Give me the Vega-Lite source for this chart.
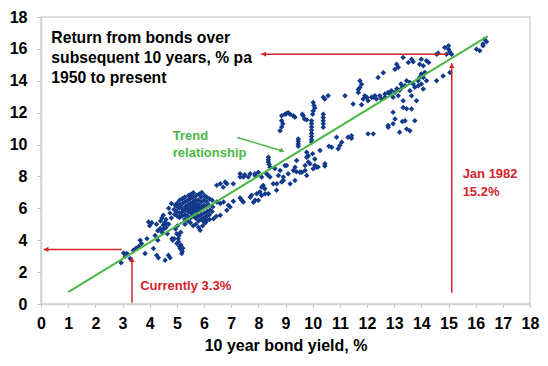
{
  "$schema": "https://vega.github.io/schema/vega-lite/v6.json",
  "width": 489,
  "height": 287,
  "autosize": "none",
  "padding": {"left": 41, "top": 17, "right": 18, "bottom": 62},
  "background": "white",
  "config": {
    "view": {"stroke": "#D4D4D4", "strokeWidth": 1.5},
    "font": "Liberation Sans",
    "axis": {
      "labelFont": "Liberation Sans", "labelFontWeight": "bold", "labelFontSize": 16, "labelColor": "#000000",
      "labelOverlap": false, "labelBound": false, "labelFlush": false,
      "titleFont": "Liberation Sans", "titleFontWeight": "bold", "titleFontSize": 16, "titleColor": "#000000",
      "grid": false, "domainColor": "#D4D4D4", "domainWidth": 1.5, "tickColor": "#BDBDBD"
    }
  },
  "datasets": {
    "pts": [
      {"yield":2.95,"ret":2.58},{"yield":3.04,"ret":3.2},{"yield":3.16,"ret":3.17},{"yield":3.28,"ret":2.85},{"yield":3.4,"ret":3.37},{"yield":3.1,"ret":3.0},{"yield":3.5,"ret":3.5},{"yield":3.65,"ret":4.0},{"yield":3.7,"ret":3.8},{"yield":3.83,"ret":3.17},{"yield":3.6,"ret":3.6},{"yield":3.9,"ret":4.1},{"yield":3.96,"ret":5.15},{"yield":4.08,"ret":5.1},{"yield":4.0,"ret":4.9},{"yield":4.14,"ret":3.48},{"yield":4.26,"ret":3.06},{"yield":4.32,"ret":2.9},{"yield":4.2,"ret":4.3},{"yield":4.3,"ret":4.0},{"yield":4.39,"ret":4.73},{"yield":4.45,"ret":4.5},{"yield":4.5,"ret":4.94},{"yield":4.55,"ret":5.1},{"yield":4.6,"ret":4.8},{"yield":4.5,"ret":5.56},{"yield":4.45,"ret":5.4},{"yield":4.6,"ret":5.3},{"yield":4.7,"ret":5.0},{"yield":4.75,"ret":5.7},{"yield":4.8,"ret":5.4},{"yield":4.57,"ret":2.75},{"yield":4.69,"ret":3.06},{"yield":4.75,"ret":2.9},{"yield":4.82,"ret":4.1},{"yield":4.65,"ret":4.4},{"yield":4.4,"ret":5.2},{"yield":4.3,"ret":4.6},{"yield":4.25,"ret":5.0},{"yield":4.7,"ret":6.0},{"yield":4.8,"ret":6.3},{"yield":4.62,"ret":5.05},{"yield":4.52,"ret":4.7},
      {"yield":4.95,"ret":4.7},{"yield":5.0,"ret":4.4},{"yield":5.05,"ret":4.1},{"yield":5.0,"ret":3.8},{"yield":5.06,"ret":3.9},{"yield":5.1,"ret":3.6},{"yield":5.12,"ret":3.48},{"yield":5.18,"ret":3.17},{"yield":5.2,"ret":3.3},{"yield":5.15,"ret":3.7},{"yield":5.08,"ret":4.3},{"yield":4.9,"ret":4.1},{"yield":4.85,"ret":4.0},{"yield":5.22,"ret":3.5},{"yield":5.14,"ret":4.5},{"yield":5.02,"ret":4.9},
      {"yield":5.3,"ret":5.0},{"yield":5.5,"ret":5.1},{"yield":5.7,"ret":5.0},{"yield":5.8,"ret":4.8},{"yield":5.86,"ret":4.63},{"yield":5.95,"ret":4.9},{"yield":6.05,"ret":5.1},{"yield":6.1,"ret":5.25},{"yield":6.2,"ret":5.3},{"yield":6.35,"ret":5.35},{"yield":6.45,"ret":5.5},{"yield":6.6,"ret":5.56},{"yield":6.0,"ret":5.15},{"yield":5.6,"ret":4.9},{"yield":5.4,"ret":5.2},
      {"yield":4.92,"ret":5.62},{"yield":4.9,"ret":5.92},{"yield":4.94,"ret":6.2},{"yield":5.02,"ret":5.5},{"yield":5.0,"ret":5.78},{"yield":5.03,"ret":6.08},{"yield":5.01,"ret":6.32},
      {"yield":5.1,"ret":5.42},{"yield":5.12,"ret":5.7},{"yield":5.09,"ret":6.0},{"yield":5.13,"ret":6.22},{"yield":5.1,"ret":6.5},
      {"yield":5.2,"ret":5.52},{"yield":5.22,"ret":5.8},{"yield":5.18,"ret":6.02},{"yield":5.21,"ret":6.3},{"yield":5.2,"ret":6.6},
      {"yield":5.3,"ret":5.3},{"yield":5.31,"ret":5.6},{"yield":5.28,"ret":5.88},{"yield":5.32,"ret":6.12},{"yield":5.3,"ret":6.42},{"yield":5.29,"ret":6.7},
      {"yield":5.4,"ret":5.5},{"yield":5.42,"ret":5.78},{"yield":5.38,"ret":6.0},{"yield":5.41,"ret":6.22},{"yield":5.4,"ret":6.5},{"yield":5.43,"ret":6.8},
      {"yield":5.5,"ret":5.4},{"yield":5.52,"ret":5.7},{"yield":5.48,"ret":5.92},{"yield":5.51,"ret":6.1},{"yield":5.5,"ret":6.32},{"yield":5.49,"ret":6.6},{"yield":5.52,"ret":6.88},
      {"yield":5.6,"ret":5.5},{"yield":5.61,"ret":5.8},{"yield":5.58,"ret":6.02},{"yield":5.62,"ret":6.2},{"yield":5.6,"ret":6.42},{"yield":5.59,"ret":6.7},{"yield":5.61,"ret":6.98},
      {"yield":5.7,"ret":5.38},{"yield":5.72,"ret":5.62},{"yield":5.68,"ret":5.9},{"yield":5.71,"ret":6.1},{"yield":5.7,"ret":6.3},{"yield":5.69,"ret":6.52},{"yield":5.72,"ret":6.8},
      {"yield":5.8,"ret":5.2},{"yield":5.82,"ret":5.5},{"yield":5.78,"ret":5.8},{"yield":5.81,"ret":6.02},{"yield":5.8,"ret":6.22},{"yield":5.79,"ret":6.5},{"yield":5.82,"ret":6.9},
      {"yield":5.9,"ret":5.3},{"yield":5.91,"ret":5.6},{"yield":5.88,"ret":5.88},{"yield":5.92,"ret":6.1},{"yield":5.9,"ret":6.4},{"yield":5.89,"ret":6.7},{"yield":5.92,"ret":7.0},
      {"yield":6.0,"ret":5.4},{"yield":6.02,"ret":5.7},{"yield":5.98,"ret":6.0},{"yield":6.01,"ret":6.2},{"yield":6.0,"ret":6.5},{"yield":6.02,"ret":6.8},
      {"yield":6.1,"ret":5.5},{"yield":6.12,"ret":5.8},{"yield":6.08,"ret":6.1},{"yield":6.11,"ret":6.4},{"yield":6.1,"ret":6.7},
      {"yield":6.2,"ret":5.6},{"yield":6.22,"ret":5.9},{"yield":6.18,"ret":6.2},{"yield":6.2,"ret":6.6},
      {"yield":6.3,"ret":5.8},{"yield":6.32,"ret":6.1},{"yield":6.3,"ret":6.5},
      {"yield":6.47,"ret":7.44},{"yield":6.6,"ret":7.54},{"yield":6.71,"ret":7.33},{"yield":6.78,"ret":7.65},{"yield":6.84,"ret":7.54},{"yield":6.47,"ret":6.4},{"yield":6.6,"ret":6.3},{"yield":6.72,"ret":6.4},{"yield":6.84,"ret":5.88},{"yield":6.9,"ret":6.2},{"yield":6.96,"ret":6.08},{"yield":7.08,"ret":6.45},{"yield":7.08,"ret":7.54},{"yield":7.33,"ret":6.65},{"yield":7.39,"ret":6.5},{"yield":7.45,"ret":6.4},{"yield":7.7,"ret":6.7},{"yield":7.75,"ret":6.82},{"yield":7.88,"ret":6.5},{"yield":7.82,"ret":6.38},{"yield":8.0,"ret":6.5},{"yield":8.06,"ret":7.02},{"yield":8.12,"ret":7.33},{"yield":8.24,"ret":7.23},{"yield":8.25,"ret":6.92},{"yield":8.37,"ret":6.92},{"yield":7.94,"ret":6.92},{"yield":8.68,"ret":7.54},{"yield":8.67,"ret":7.13},{"yield":8.55,"ret":7.54},{"yield":8.12,"ret":6.81},
      {"yield":7.33,"ret":7.96},{"yield":7.45,"ret":7.96},{"yield":7.63,"ret":7.96},{"yield":7.88,"ret":8.17},{"yield":8.0,"ret":8.27},{"yield":7.33,"ret":8.17},{"yield":7.5,"ret":8.1},{"yield":7.7,"ret":8.17},{"yield":7.88,"ret":8.06},{"yield":8.12,"ret":7.96},{"yield":8.3,"ret":8.17},{"yield":8.37,"ret":8.06},{"yield":8.43,"ret":7.96},{"yield":8.18,"ret":7.44},
      {"yield":8.37,"ret":9.2},{"yield":8.37,"ret":9.05},{"yield":8.37,"ret":8.9},{"yield":8.4,"ret":8.75},{"yield":8.43,"ret":8.58},
      {"yield":8.61,"ret":8.5},{"yield":8.8,"ret":8.37},{"yield":8.74,"ret":8.06},{"yield":8.92,"ret":7.96},{"yield":9.1,"ret":8.17},{"yield":9.29,"ret":8.37},{"yield":9.4,"ret":8.3},{"yield":8.86,"ret":7.65},{"yield":8.92,"ret":7.75},{"yield":9.17,"ret":7.54},{"yield":9.35,"ret":7.75},{"yield":9.04,"ret":8.69},{"yield":8.98,"ret":8.69},{"yield":9.35,"ret":8.58},{"yield":9.41,"ret":9.0},{"yield":9.53,"ret":8.27},{"yield":9.6,"ret":8.27},{"yield":9.72,"ret":8.37},{"yield":9.78,"ret":8.06},{"yield":9.72,"ret":8.69},{"yield":9.84,"ret":8.9},{"yield":9.9,"ret":8.8},{"yield":10.02,"ret":8.48},{"yield":10.08,"ret":8.7},{"yield":10.15,"ret":8.58},{"yield":10.2,"ret":8.6},{"yield":10.45,"ret":8.79},{"yield":10.45,"ret":8.66},
      {"yield":9.47,"ret":10.35},{"yield":9.47,"ret":10.2},{"yield":9.47,"ret":10.04},{"yield":9.47,"ret":9.9},
      {"yield":8.8,"ret":10.87},{"yield":8.86,"ret":11.1},{"yield":8.86,"ret":11.5},{"yield":8.86,"ret":11.8},{"yield":8.98,"ret":11.9},{"yield":9.1,"ret":12.0},{"yield":9.17,"ret":11.9},{"yield":9.29,"ret":11.8},{"yield":9.35,"ret":11.72},{"yield":9.04,"ret":11.95},{"yield":8.9,"ret":11.3},
      {"yield":9.65,"ret":11.8},{"yield":9.7,"ret":11.6},{"yield":9.62,"ret":11.9},{"yield":9.78,"ret":11.55},
      {"yield":9.96,"ret":11.5},{"yield":9.96,"ret":11.3},{"yield":9.96,"ret":11.1},{"yield":9.96,"ret":10.9},{"yield":9.96,"ret":10.7},{"yield":9.96,"ret":10.5},{"yield":9.96,"ret":10.3},{"yield":9.96,"ret":10.14},
      {"yield":10.02,"ret":12.64},{"yield":10.05,"ret":12.45},{"yield":10.08,"ret":12.3},{"yield":10.02,"ret":12.1},{"yield":10.0,"ret":11.9},
      {"yield":10.39,"ret":11.9},{"yield":10.39,"ret":11.7},{"yield":10.39,"ret":11.5},{"yield":10.39,"ret":11.3},{"yield":10.39,"ret":11.08},
      {"yield":10.39,"ret":12.96},{"yield":10.45,"ret":12.85},{"yield":10.57,"ret":13.06},
      {"yield":11.19,"ret":13.06},{"yield":11.49,"ret":12.54},{"yield":11.68,"ret":13.27},{"yield":11.74,"ret":13.58},{"yield":11.8,"ret":13.79},{"yield":11.74,"ret":14.0},{"yield":11.68,"ret":13.46},{"yield":11.86,"ret":12.85},{"yield":11.8,"ret":12.5},{"yield":11.92,"ret":13.06},{"yield":12.0,"ret":12.95},{"yield":12.04,"ret":12.75},{"yield":12.17,"ret":12.96},{"yield":12.23,"ret":12.96},{"yield":12.29,"ret":13.06},{"yield":12.35,"ret":12.85},{"yield":12.41,"ret":14.2},{"yield":12.6,"ret":14.5},{"yield":12.47,"ret":13.06},{"yield":12.53,"ret":12.85},{"yield":12.66,"ret":13.17},{"yield":12.66,"ret":12.96},{"yield":12.78,"ret":13.27},{"yield":12.84,"ret":13.17},{"yield":12.9,"ret":13.37},{"yield":12.96,"ret":12.96},{"yield":13.03,"ret":13.27},{"yield":13.15,"ret":13.06},{"yield":13.1,"ret":13.5},{"yield":13.2,"ret":13.4},{"yield":13.3,"ret":13.6},{"yield":13.4,"ret":13.69},{"yield":13.25,"ret":13.8},{"yield":13.46,"ret":14.0},{"yield":13.58,"ret":13.37},{"yield":13.58,"ret":13.9},{"yield":13.64,"ret":13.06},{"yield":13.7,"ret":13.8},{"yield":13.76,"ret":13.6},{"yield":13.89,"ret":13.69},{"yield":13.88,"ret":14.0},{"yield":13.94,"ret":14.2},{"yield":14.0,"ret":13.8},{"yield":14.07,"ret":13.48},{"yield":14.07,"ret":14.2},{"yield":14.0,"ret":14.42},{"yield":14.13,"ret":14.52},{"yield":14.19,"ret":14.0},
      {"yield":13.03,"ret":14.73},{"yield":13.09,"ret":15.04},{"yield":13.15,"ret":14.85},{"yield":13.33,"ret":15.46},{"yield":13.52,"ret":15.14},{"yield":13.64,"ret":15.35},{"yield":13.7,"ret":15.2},{"yield":14.0,"ret":15.35},{"yield":13.94,"ret":15.04},{"yield":14.19,"ret":15.25},{"yield":14.27,"ret":15.15},{"yield":14.07,"ret":14.94},
      {"yield":12.78,"ret":11.19},{"yield":12.96,"ret":12.02},{"yield":13.03,"ret":11.6},{"yield":12.78,"ret":11.08},{"yield":12.96,"ret":11.3},{"yield":13.33,"ret":12.33},{"yield":13.46,"ret":12.25},{"yield":13.4,"ret":11.5},{"yield":13.3,"ret":11.45},{"yield":13.76,"ret":11.5},{"yield":13.46,"ret":10.98},{"yield":13.58,"ret":10.87},{"yield":13.2,"ret":10.77},{"yield":13.64,"ret":12.23},{"yield":13.82,"ret":12.75},{"yield":13.33,"ret":12.75},
      {"yield":14.56,"ret":14.0},{"yield":14.8,"ret":14.3},{"yield":15.05,"ret":14.52},
      {"yield":14.56,"ret":15.67},{"yield":14.62,"ret":15.72},{"yield":14.93,"ret":15.67},{"yield":14.86,"ret":16.08},{"yield":15.0,"ret":15.98},{"yield":15.05,"ret":15.8},{"yield":15.0,"ret":16.2},{"yield":15.11,"ret":15.67},
      {"yield":16.03,"ret":15.98},{"yield":16.15,"ret":15.88},{"yield":16.27,"ret":16.3},{"yield":16.33,"ret":16.6},{"yield":16.4,"ret":16.45},{"yield":16.27,"ret":16.2},
      {"yield":11.43,"ret":10.56},{"yield":11.43,"ret":10.4},{"yield":11.07,"ret":10.14},{"yield":11.0,"ret":9.94},{"yield":10.7,"ret":9.83},{"yield":10.6,"ret":9.9},{"yield":10.27,"ret":9.63},{"yield":10.0,"ret":9.42},{"yield":10.08,"ret":9.1},{"yield":9.78,"ret":9.52},{"yield":9.84,"ret":9.3},{"yield":9.78,"ret":9.2},{"yield":12.04,"ret":10.67},{"yield":12.23,"ret":10.67},{"yield":10.88,"ret":10.46},{"yield":11.3,"ret":10.46},{"yield":10.94,"ret":9.73}
    ],
    "trend": [{"yield": 1, "ret": 0.75}, {"yield": 16.45, "ret": 16.8}],
    "redRules": [
      {"yield": 8.1, "yield2": 14.95, "ret": 15.67, "ret2": 15.67},
      {"yield": 15.12, "yield2": 15.12, "ret": 0.71, "ret2": 15.1},
      {"yield": 0.1, "yield2": 2.98, "ret": 3.42, "ret2": 3.42},
      {"yield": 3.35, "yield2": 3.35, "ret": 0.08, "ret2": 2.92}
    ],
    "leftHeads": [{"yield": 8.2, "ret": 15.67}, {"yield": 0.19, "ret": 3.42}],
    "upHeads": [{"yield": 15.12, "ret": 14.95}, {"yield": 3.35, "ret": 2.77}],
    "greenArrow": [{"yield": 7.22, "yield2": 8.9, "ret": 10.44, "ret2": 9.6}],
    "greenHead": [{"yield": 8.88, "ret": 9.6}],
    "blackText": [
      {"yield": 0.38, "ret": 16.39, "label": "Return from bonds over"},
      {"yield": 0.38, "ret": 15.14, "label": "subsequent 10 years, % pa"},
      {"yield": 0.38, "ret": 13.89, "label": "1950 to present"}
    ],
    "greenText": [
      {"yield": 4.85, "ret": 10.31, "label": "Trend"},
      {"yield": 4.85, "ret": 9.25, "label": "relationship"}
    ],
    "redText": [
      {"yield": 15.52, "ret": 7.88, "label": "Jan 1982"},
      {"yield": 15.52, "ret": 6.8, "label": "15.2%"},
      {"yield": 3.65, "ret": 0.88, "label": "Currently 3.3%"}
    ]
  },
  "encoding": {
    "x": {"field": "yield", "type": "quantitative", "scale": {"domain": [0, 18], "nice": false},
          "axis": {"values": [0,1,2,3,4,5,6,7,8,9,10,11,12,13,14,15,16,17,18], "title": "10 year bond yield, %", "tickSize": 3, "labelPadding": 8, "titlePadding": 6}},
    "y": {"field": "ret", "type": "quantitative", "scale": {"domain": [0, 18], "nice": false},
          "axis": {"values": [0,2,4,6,8,10,12,14,16,18], "title": null, "tickSize": 4, "labelPadding": 10}}
  },
  "layer": [
    {
      "data": {"name": "pts"},
      "mark": {"type": "point", "shape": "diamond", "filled": true, "size": 30, "color": "#12398A", "opacity": 1}
    },
    {
      "data": {"name": "trend"},
      "mark": {"type": "line", "color": "#4DB848", "strokeWidth": 2}
    },
    {
      "data": {"name": "redRules"},
      "mark": {"type": "rule", "color": "#D2232A", "strokeWidth": 1.5},
      "encoding": {"x2": {"field": "yield2"}, "y2": {"field": "ret2"}}
    },
    {
      "data": {"name": "leftHeads"},
      "mark": {"type": "point", "shape": "triangle-left", "filled": true, "size": 28, "color": "#D2232A", "opacity": 1}
    },
    {
      "data": {"name": "upHeads"},
      "mark": {"type": "point", "shape": "triangle-up", "filled": true, "size": 28, "color": "#D2232A", "opacity": 1}
    },
    {
      "data": {"name": "greenArrow"},
      "mark": {"type": "rule", "color": "#4DB848", "strokeWidth": 1.5},
      "encoding": {"x2": {"field": "yield2"}, "y2": {"field": "ret2"}}
    },
    {
      "data": {"name": "greenHead"},
      "mark": {"type": "point", "shape": "triangle-right", "filled": true, "size": 30, "angle": 27, "color": "#4DB848", "opacity": 1}
    },
    {
      "data": {"name": "blackText"},
      "mark": {"type": "text", "align": "left", "baseline": "alphabetic", "font": "Liberation Sans", "fontWeight": "bold", "fontSize": 15.7, "color": "#000000"},
      "encoding": {"text": {"field": "label"}}
    },
    {
      "data": {"name": "greenText"},
      "mark": {"type": "text", "align": "left", "baseline": "alphabetic", "font": "Liberation Sans", "fontWeight": "bold", "fontSize": 13, "color": "#4DB848"},
      "encoding": {"text": {"field": "label"}}
    },
    {
      "data": {"name": "redText"},
      "mark": {"type": "text", "align": "left", "baseline": "alphabetic", "font": "Liberation Sans", "fontWeight": "bold", "fontSize": 13, "color": "#D2232A"},
      "encoding": {"text": {"field": "label"}}
    }
  ]
}
